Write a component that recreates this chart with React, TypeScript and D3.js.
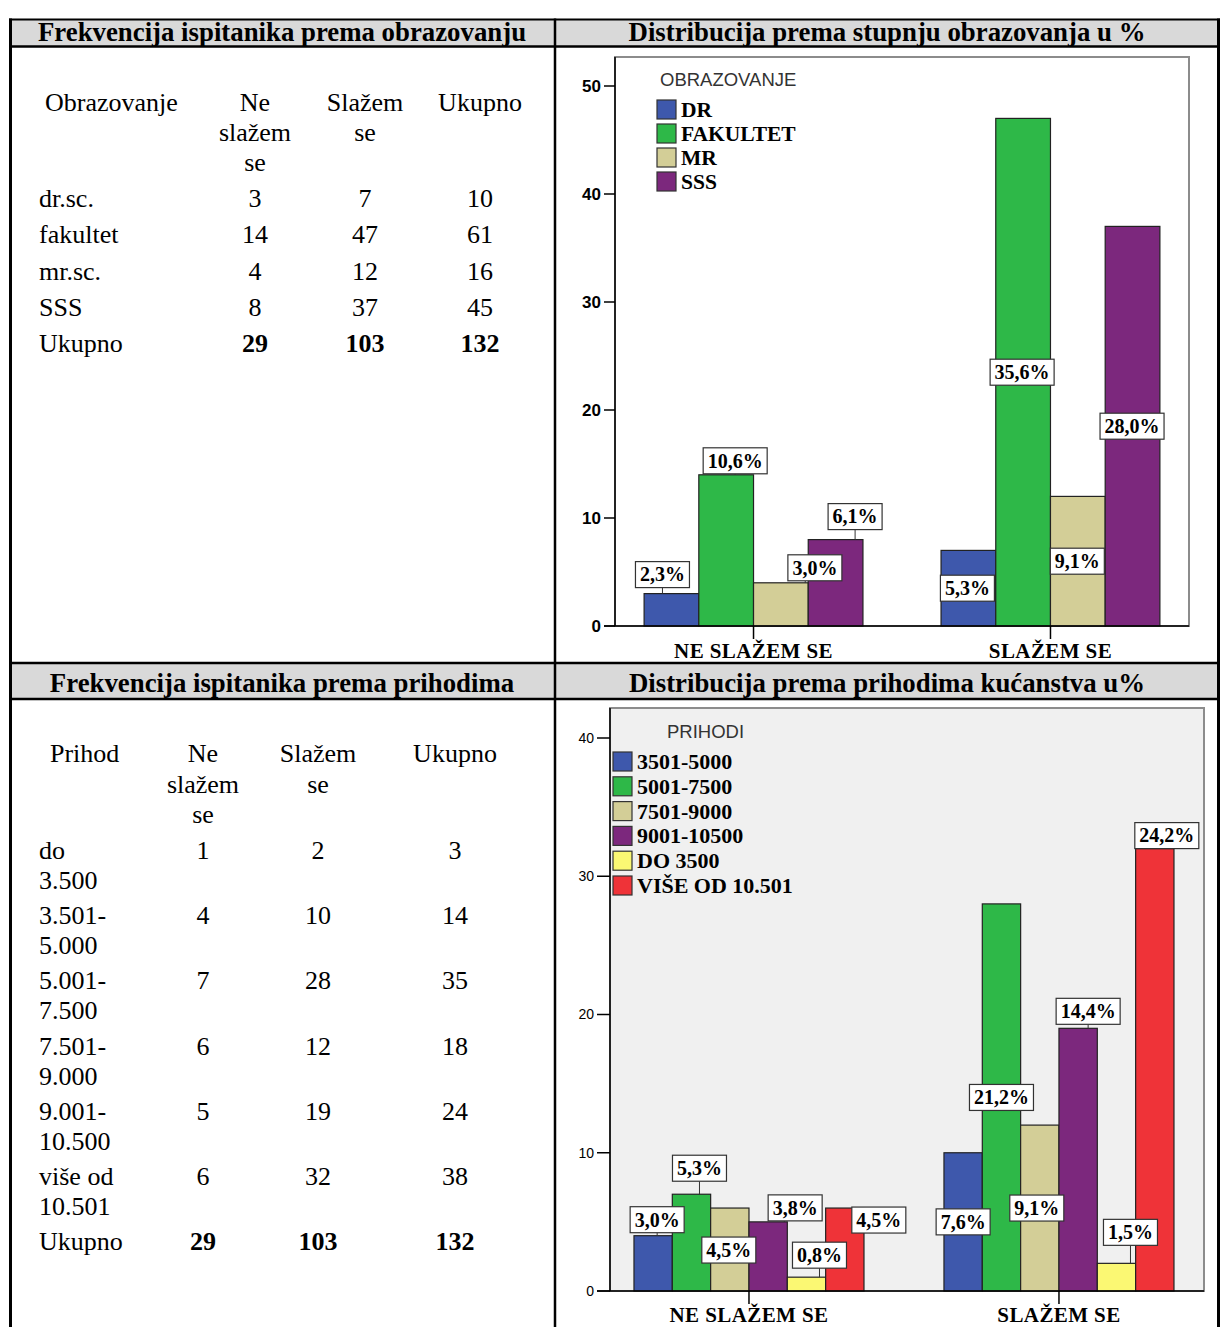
import React from "react";
import * as d3 from "d3";

// ---------- DATA ----------
const eduRowLabels = ["dr.sc.", "fakultet", "mr.sc.", "SSS"];
const eduNe = [3, 14, 4, 8];
const eduDa = [7, 47, 12, 37];
const eduUk = [10, 61, 16, 45];
const eduTotals = [29, 103, 132];

const incRowLabels = [
  ["do", "3.500"],
  ["3.501-", "5.000"],
  ["5.001-", "7.500"],
  ["7.501-", "9.000"],
  ["9.001-", "10.500"],
  ["više od", "10.501"],
];
const incNe = [1, 4, 7, 6, 5, 6];
const incDa = [2, 10, 28, 12, 19, 32];
const incUk = [3, 14, 35, 18, 24, 38];
const incTotals = [29, 103, 132];

const groups = ["NE SLAŽEM SE", "SLAŽEM SE"];
const eduSeries = ["DR", "FAKULTET", "MR", "SSS"];
const eduChartNe = [3, 14, 4, 8];
const eduChartDa = [7, 47, 12, 37];
const eduTicks = [0, 10, 20, 30, 40, 50];

const incSeries = ["3501-5000", "5001-7500", "7501-9000", "9001-10500", "DO 3500", "VIŠE OD 10.501"];
const incChartNe = [4, 7, 6, 5, 1, 6];
const incChartDa = [10, 28, 12, 19, 2, 32];
const incTicks = [0, 10, 20, 30, 40];
const totalN = 132;

// ---------- STYLE / LAYOUT ----------
const eduColors = ["#3e58ac", "#2eb848", "#d3ce97", "#7c287d"];
const incColors = ["#3e58ac", "#2eb848", "#d3ce97", "#7c287d", "#fbf873", "#ef3338"];
// label box offsets [dx, dy, anchor] relative to bar centre and bar top / bar middle
const eduLabelPos: any[] = [
  [[-9, -19, "top"], [9, -14, "top"], [34, -15, "top"], [19.5, -23, "top"]],
  [[-1, 0, "mid"], [-1, 0, "mid"], [-0.5, 0, "mid"], [-0.5, 0, "mid"]],
];
const incLabelPos: any[] = [
  [[4, -16, "top"], [8, -26, "top"], [-1, 42, "top"], [27, -14, "top"], [13, -22, "top"], [34, 12, "top"]],
  [[0, 0, "mid"], [0, 0, "mid"], [-3, 0, "mid"], [10, -17, "top"], [14, -31, "top"], [12, -13, "top"]],
];

const SERIF = "'Liberation Serif', 'Times New Roman', serif";
const NARROW = "'Liberation Sans Narrow', 'Arial Narrow', 'Liberation Sans', sans-serif";

const pct = (v: number) => ((v / totalN) * 100).toFixed(1).replace(".", ",") + "%";
const charW = (s: string) =>
  s.split("").reduce((a, c) => a + (c === "%" ? 1.0 : c === "," || c === "." ? 0.25 : 0.5), 0);

function BarChart({ cfg }: { cfg: any }) {
  const y = d3.scaleLinear().domain([0, cfg.yTopVal]).range([cfg.yBase, cfg.yTopPx]);
  const x0 = d3
    .scaleBand<string>()
    .domain(groups)
    .range([cfg.fx0, cfg.fx1])
    .paddingInner(cfg.pIn)
    .paddingOuter(cfg.pOut)
    .align(cfg.align);
  const x1 = d3.scaleBand<string>().domain(cfg.series).range([0, x0.bandwidth()]);
  const values = [cfg.ne, cfg.da];
  const fs = 20;
  return (
    <g>
      <rect
        x={cfg.fx0}
        y={cfg.fyTop}
        width={cfg.fx1 - cfg.fx0}
        height={cfg.yBase - cfg.fyTop}
        fill={cfg.bg}
        stroke="#8c8c8c"
        strokeWidth={2}
      />
      {/* y ticks */}
      {cfg.ticks.map((t: number) => (
        <g key={t}>
          <line x1={cfg.tickX0} x2={cfg.fx0} y1={y(t)} y2={y(t)} stroke="#000" strokeWidth={1.5} />
          <text
            x={cfg.tickX0 - 3}
            y={y(t)}
            dy="0.35em"
            textAnchor="end"
            fontFamily={NARROW}
            fontWeight={cfg.tickBold ? "bold" : "normal"}
            fontSize={cfg.tickFs}
            fill="#000"
          >
            {t}
          </text>
        </g>
      ))}
      <line x1={cfg.fx0} x2={cfg.fx0} y1={cfg.fyTop} y2={cfg.yBase} stroke="#000" strokeWidth={1.5} />
      {/* bars */}
      {groups.map((g, gi) => (
        <g key={g}>
          {cfg.series.map((s: string, si: number) => {
            const v = values[gi][si];
            const bx = (x0(g) as number) + (x1(s) as number);
            const bw = x1.bandwidth();
            return (
              <rect
                key={s}
                x={bx}
                y={y(v)}
                width={bw}
                height={y(0) - y(v)}
                fill={cfg.colors[si]}
                stroke="#222"
                strokeWidth={1.2}
              />
            );
          })}
        </g>
      ))}
      <line x1={cfg.tickX0} x2={cfg.fx1} y1={cfg.yBase} y2={cfg.yBase} stroke="#000" strokeWidth={1.5} />
      {/* category ticks and labels */}
      {groups.map((g) => {
        const cx = (x0(g) as number) + x0.bandwidth() / 2;
        return (
          <g key={g}>
            <line x1={cx} x2={cx} y1={cfg.yBase} y2={cfg.yBase + 13} stroke="#000" strokeWidth={1.5} />
            <text
              x={cx}
              y={cfg.catY}
              textAnchor="middle"
              fontFamily={SERIF}
              fontWeight="bold"
              fontSize={21}
              letterSpacing={0.4}
              fill="#000"
            >
              {g}
            </text>
          </g>
        );
      })}
      {/* value labels */}
      {groups.map((g, gi) => (
        <g key={g}>
          {cfg.series.map((s: string, si: number) => {
            const v = values[gi][si];
            const bx = (x0(g) as number) + (x1(s) as number);
            const bw = x1.bandwidth();
            const [dx, dy, anchor] = cfg.labelPos[gi][si];
            const ay = anchor === "mid" ? y(v / 2) : y(v);
            const cx = bx + bw / 2 + dx;
            const cy = ay + dy;
            const txt = pct(v);
            const w = charW(txt) * fs + 9;
            const h = 26;
            const top = y(v);
            const bottom = cy + h / 2;
            const lx = Math.max(bx + 3, Math.min(bx + bw - 3, cx));
            return (
              <g key={s}>
                {anchor === "top" && bottom < top && (
                  <line x1={lx} x2={lx} y1={bottom} y2={top} stroke="#333" strokeWidth={1} />
                )}
                <rect
                  x={cx - w / 2}
                  y={cy - h / 2}
                  width={w}
                  height={h}
                  fill="#fff"
                  stroke="#333"
                  strokeWidth={1.2}
                />
                <text
                  x={cx}
                  y={cy}
                  dy="0.34em"
                  textAnchor="middle"
                  fontFamily={SERIF}
                  fontWeight="bold"
                  fontSize={fs}
                  fill="#000"
                >
                  {txt}
                </text>
              </g>
            );
          })}
        </g>
      ))}
      {/* legend */}
      <text x={cfg.lgTitleX} y={cfg.lgTitleY} fontFamily={NARROW} fontSize={18.5} fill="#333">
        {cfg.lgTitle}
      </text>
      {cfg.series.map((s: string, i: number) => (
        <g key={s}>
          <rect
            x={cfg.lgX}
            y={cfg.lgY + i * cfg.lgDy}
            width={19}
            height={19}
            fill={cfg.colors[i]}
            stroke="#333"
            strokeWidth={1.2}
          />
          <text
            x={cfg.lgX + 24}
            y={cfg.lgY + i * cfg.lgDy + 17}
            fontFamily={SERIF}
            fontWeight="bold"
            fontSize={cfg.lgFs}
            fill="#000"
          >
            {s}
          </text>
        </g>
      ))}
    </g>
  );
}

function TableText({ x, y, children, bold, anchor }: any) {
  return (
    <text
      x={x}
      y={y}
      fontFamily={SERIF}
      fontSize={26}
      fontWeight={bold ? "bold" : "normal"}
      textAnchor={anchor || "start"}
      fill="#000"
    >
      {children}
    </text>
  );
}

export default function App() {
  const eduCfg = {
    fx0: 615, fx1: 1189, fyTop: 57, yBase: 626, yTopVal: 50, yTopPx: 86,
    ticks: eduTicks, series: eduSeries, colors: eduColors, ne: eduChartNe, da: eduChartDa,
    labelPos: eduLabelPos, bg: "#ffffff", pIn: 0.263, pOut: 0.098, align: 0.5,
    tickX0: 604, tickFs: 17, tickBold: true, catY: 658,
    lgTitle: "OBRAZOVANJE", lgTitleX: 660, lgTitleY: 86, lgX: 657, lgY: 100, lgDy: 24, lgFs: 21.5,
  };
  const incCfg = {
    fx0: 610, fx1: 1204, fyTop: 708, yBase: 1291, yTopVal: 40, yTopPx: 738,
    ticks: incTicks, series: incSeries, colors: incColors, ne: incChartNe, da: incChartDa,
    labelPos: incLabelPos, bg: "#f0f0f0", pIn: 0.258, pOut: 0.0871, align: 0.444,
    tickX0: 597, tickFs: 14, tickBold: false, catY: 1322,
    lgTitle: "PRIHODI", lgTitleX: 667, lgTitleY: 738, lgX: 613, lgY: 752, lgDy: 24.8, lgFs: 22,
  };

  const eduCols = [255, 365, 480];
  const incCols = [203, 318, 455];

  return (
    <svg
      width={1220}
      height={1327}
      style={{ position: "absolute", left: 0, top: 0, background: "#fff" }}
    >
      {/* header fills */}
      <rect x={11} y={20} width={1207} height={26} fill="#d9d9d9" />
      <rect x={11} y={664} width={1207} height={34} fill="#d9d9d9" />
      {/* grid lines */}
      <line x1={9} x2={1220} y1={19.5} y2={19.5} stroke="#000" strokeWidth={2} />
      <line x1={9} x2={1220} y1={46.5} y2={46.5} stroke="#000" strokeWidth={2.5} />
      <line x1={9} x2={1220} y1={663} y2={663} stroke="#000" strokeWidth={2.5} />
      <line x1={9} x2={1220} y1={699} y2={699} stroke="#000" strokeWidth={2.5} />
      <line x1={10.5} x2={10.5} y1={18.5} y2={1327} stroke="#000" strokeWidth={3} />
      <line x1={555} x2={555} y1={18.5} y2={1327} stroke="#000" strokeWidth={2.5} />
      <line x1={1218.5} x2={1218.5} y1={18.5} y2={1327} stroke="#000" strokeWidth={3} />

      {/* titles */}
      <text x={282} y={41} textAnchor="middle" fontFamily={SERIF} fontWeight="bold" fontSize={26.8} fill="#000">
        Frekvencija ispitanika prema obrazovanju
      </text>
      <text x={887} y={41} textAnchor="middle" fontFamily={SERIF} fontWeight="bold" fontSize={26.8} fill="#000">
        Distribucija prema stupnju obrazovanja u %
      </text>
      <text x={282} y={692} textAnchor="middle" fontFamily={SERIF} fontWeight="bold" fontSize={26.8} fill="#000">
        Frekvencija ispitanika prema prihodima
      </text>
      <text x={887} y={692} textAnchor="middle" fontFamily={SERIF} fontWeight="bold" fontSize={26.8} fill="#000">
        Distribucija prema prihodima kućanstva u%
      </text>

      {/* education table */}
      <TableText x={45} y={111}>Obrazovanje</TableText>
      <TableText x={eduCols[0]} y={111} anchor="middle">Ne</TableText>
      <TableText x={eduCols[0]} y={141} anchor="middle">slažem</TableText>
      <TableText x={eduCols[0]} y={171} anchor="middle">se</TableText>
      <TableText x={eduCols[1]} y={111} anchor="middle">Slažem</TableText>
      <TableText x={eduCols[1]} y={141} anchor="middle">se</TableText>
      <TableText x={eduCols[2]} y={111} anchor="middle">Ukupno</TableText>
      {eduRowLabels.map((lab, i) => {
        const yy = 207 + i * 36.3;
        return (
          <g key={lab}>
            <TableText x={39} y={yy}>{lab}</TableText>
            <TableText x={eduCols[0]} y={yy} anchor="middle">{eduNe[i]}</TableText>
            <TableText x={eduCols[1]} y={yy} anchor="middle">{eduDa[i]}</TableText>
            <TableText x={eduCols[2]} y={yy} anchor="middle">{eduUk[i]}</TableText>
          </g>
        );
      })}
      <TableText x={39} y={207 + 4 * 36.3}>Ukupno</TableText>
      {eduTotals.map((t, j) => (
        <TableText key={j} x={eduCols[j]} y={207 + 4 * 36.3} anchor="middle" bold>
          {t}
        </TableText>
      ))}

      {/* income table */}
      <TableText x={50} y={762}>Prihod</TableText>
      <TableText x={incCols[0]} y={762} anchor="middle">Ne</TableText>
      <TableText x={incCols[0]} y={793} anchor="middle">slažem</TableText>
      <TableText x={incCols[0]} y={823} anchor="middle">se</TableText>
      <TableText x={incCols[1]} y={762} anchor="middle">Slažem</TableText>
      <TableText x={incCols[1]} y={793} anchor="middle">se</TableText>
      <TableText x={incCols[2]} y={762} anchor="middle">Ukupno</TableText>
      {incRowLabels.map((lab, i) => {
        const yy = 859 + i * 65.2;
        return (
          <g key={i}>
            <TableText x={39} y={yy}>{lab[0]}</TableText>
            <TableText x={39} y={yy + 30}>{lab[1]}</TableText>
            <TableText x={incCols[0]} y={yy} anchor="middle">{incNe[i]}</TableText>
            <TableText x={incCols[1]} y={yy} anchor="middle">{incDa[i]}</TableText>
            <TableText x={incCols[2]} y={yy} anchor="middle">{incUk[i]}</TableText>
          </g>
        );
      })}
      <TableText x={39} y={859 + 6 * 65.2}>Ukupno</TableText>
      {incTotals.map((t, j) => (
        <TableText key={j} x={incCols[j]} y={859 + 6 * 65.2} anchor="middle" bold>
          {t}
        </TableText>
      ))}

      <BarChart cfg={eduCfg} />
      <BarChart cfg={incCfg} />
    </svg>
  );
}
